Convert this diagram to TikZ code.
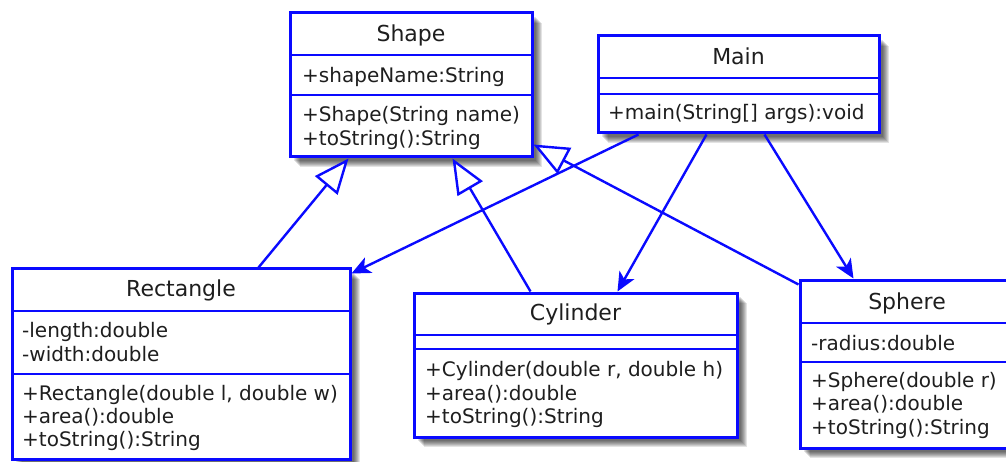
\documentclass[tikz,border=0pt]{standalone}
\usepackage{fontspec}
\setmainfont{DejaVu Sans}
\usetikzlibrary{arrows.meta,fit}
\definecolor{umlblue}{RGB}{10,10,255}
\definecolor{umltext}{RGB}{30,30,30}
\tikzset{
  x=1pt, y=-1pt,
  classbox/.style={draw=umlblue, line width=3pt, fill=white, inner sep=0pt},
  divider/.style={draw=umlblue, line width=2.6pt},
  classtitle/.style={font=\fontsize{22}{26}\selectfont, text=umltext, anchor=base, inner sep=0pt},
  member/.style={font=\fontsize{20}{24}\selectfont, text=umltext, anchor=base west, inner sep=0pt},
  link/.style={draw=umlblue, line width=2.4pt},
  extends/.style={link, -{Triangle[open, length=35pt, width=29pt, fill=white, line width=2.4pt]}},
  uses/.style={link, -{Stealth[length=19pt, width=17pt, inset=5pt]}},
}
% class frame: name, x1, y1, x2, y2, first divider, second divider
\newcommand\classframe[7]{%
  \foreach \s in {10,9,8,7,6,5,4}{%
    \fill[black, opacity=0.11] (#2+\s,#3+\s) rectangle (#4+\s,#5+\s);}
  \node[classbox, fit={(#2,#3) (#4,#5)}] (#1) {};
  \draw[divider] (#2,#6) -- (#4,#6);
  \draw[divider] (#2,#7) -- (#4,#7);
}
\begin{document}
\begin{tikzpicture}
\useasboundingbox[fill=white] (0,0) rectangle (1006,462);

% Shape
\classframe{shape}{290}{13}{532}{157}{55}{95}
\node[classtitle] (shapeT) at (411,42) {Shape};
\node[member] (shapeA) at (302,83) {+shapeName:String};
\node[member] (shapeM1) at (302,122) {+Shape(String name)};
\node[member] (shapeM2) at (302,146) {+toString():String};

% Main
\classframe{main}{598}{36}{879}{133}{78}{94}
\node[classtitle] (mainT) at (738.5,65) {Main};
\node[member] (mainM1) at (608,120) {+main(String[] args):void};

% Rectangle
\classframe{rect}{12}{269}{350}{459}{311}{374}
\node[classtitle] (rectT) at (181,296) {Rectangle};
\node[member] (rectA1) at (22,337) {-length:double};
\node[member] (rectA2) at (22,361) {-width:double};
\node[member] (rectM1) at (22,400) {+Rectangle(double l, double w)};
\node[member] (rectM2) at (22,423) {+area():double};
\node[member] (rectM3) at (22,446) {+toString():String};

% Cylinder
\classframe{cyl}{414}{293}{737}{437}{335}{349}
\node[classtitle] (cylT) at (575.5,320) {Cylinder};
\node[member] (cylM1) at (425,376) {+Cylinder(double r, double h)};
\node[member] (cylM2) at (425,400) {+area():double};
\node[member] (cylM3) at (425,423) {+toString():String};

% Sphere
\classframe{sph}{800}{280}{1014}{448}{323}{362}
\node[classtitle] (sphT) at (907,309) {Sphere};
\node[member] (sphA1) at (811,350) {-radius:double};
\node[member] (sphM1) at (811,387) {+Sphere(double r)};
\node[member] (sphM2) at (811,410) {+area():double};
\node[member] (sphM3) at (811,434) {+toString():String};

% generalisations
\draw[extends] ([xshift=248pt]rect.north west) -- ([xshift=60pt]shape.south west);
\draw[extends] ([xshift=118pt]cyl.north west) -- ([xshift=164pt]shape.south west);
\draw[extends] ([yshift=-6pt]sph.north west) -- ([yshift=14pt]shape.south east);

% associations from Main
\draw[uses] ([xshift=42pt]main.south west) -- ([yshift=-6pt]rect.north east);
\draw[uses] ([xshift=110pt]main.south west) -- ([xshift=205pt]cyl.north west);
\draw[uses] ([xshift=168pt]main.south west) -- ([xshift=55pt]sph.north west);
\end{tikzpicture}
\end{document}
